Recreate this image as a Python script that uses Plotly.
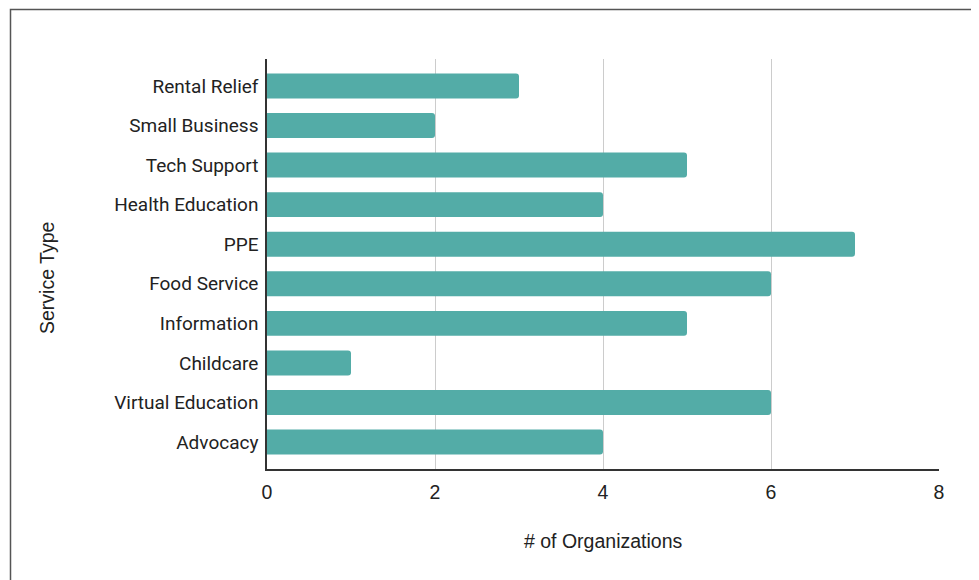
import plotly.graph_objects as go

categories = ["Rental Relief", "Small Business", "Tech Support", "Health Education", "PPE",
              "Food Service", "Information", "Childcare", "Virtual Education", "Advocacy"]
counts = [3, 2, 5, 4, 7, 6, 5, 1, 6, 4]
x_ticks = [0, 2, 4, 6, 8]

OFF = 8  # page body margin
W, H = 979 - OFF, 580 - OFF
# target page-pixel positions
PL, PR, PT, PB = 267, 939, 59, 469
L, T = PL - OFF, PT - OFF
R = W - (PR - OFF)
B = H - (PB - OFF)
pw, ph = PR - PL, PB - PT

def px_x(p):
    return (p - PL) / pw

def px_y(p):
    return (PB - p) / ph

ARIAL = "Liberation Sans, Arial, sans-serif"

fig = go.Figure(go.Bar(
    x=counts, y=categories, orientation="h",
    marker=dict(color="#53ACA7", line=dict(width=0)),
    width=0.63,
))

fig.update_layout(
    width=W, height=H,
    margin=dict(l=L, r=R, t=T, b=B, autoexpand=False),
    paper_bgcolor="white", plot_bgcolor="white",
    font=dict(family="Roboto, Arial, sans-serif", size=19, color="#222222"),
    showlegend=False,
    barcornerradius=3,
    xaxis=dict(range=[0, 8], tickvals=x_ticks, showgrid=True, gridcolor="#CCCCCC", gridwidth=1,
               zeroline=False, showline=True, linecolor="#333333", linewidth=1.5,
               ticks="", ticklabelstandoff=5, automargin=False, fixedrange=True,
               tickfont=dict(family=ARIAL, size=19.5)),
    yaxis=dict(categoryorder="array", categoryarray=categories, autorange=False,
               range=[9.68, -0.68], showgrid=False, zeroline=False, showline=True,
               linecolor="#333333", linewidth=1.5, ticks="", ticklabelstandoff=3,
               automargin=False, tickfont=dict(family="Roboto, Arial, sans-serif", size=19)),
    annotations=[
        dict(text="Service Type", xref="paper", yref="paper", x=px_x(47), y=px_y(278),
             xanchor="center", yanchor="middle",
             textangle=-90, showarrow=False, font=dict(family=ARIAL, size=19.5)),
        dict(text="# of Organizations", xref="paper", yref="paper", x=px_x(603), y=px_y(541),
             xanchor="center", yanchor="middle",
             showarrow=False, font=dict(family=ARIAL, size=19.5)),
    ],
    shapes=[
        dict(type="rect", xref="paper", yref="paper",
             x0=px_x(10.5), x1=px_x(974), y0=px_y(600), y1=px_y(9.5),
             line=dict(color="#555555", width=1.5), fillcolor="rgba(0,0,0,0)", layer="above"),
    ],
)

fig.write_html("out.html")
